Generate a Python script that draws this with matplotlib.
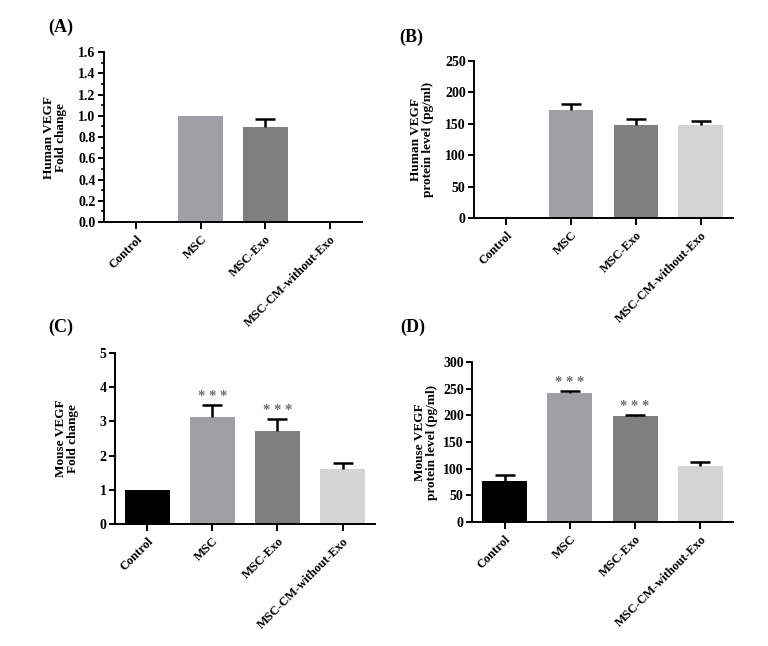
import matplotlib
matplotlib.use("Agg")
import matplotlib.pyplot as plt
from matplotlib.ticker import MultipleLocator, FormatStrFormatter
import numpy as np

categories = ["Control", "MSC", "MSC-Exo", "MSC-CM-without-Exo"]
colors = ["#000000", "#a0a0a4", "#7f7f7f", "#d4d4d4"]

human_fold = [0.0, 1.0, 0.89, 0.0]
human_fold_err = [0.0, 0.0, 0.08, 0.0]

human_level = [0.0, 172, 148, 148]
human_level_err = [0.0, 9, 9, 6]

mouse_fold = [1.0, 3.13, 2.73, 1.6]
mouse_fold_err = [0.0, 0.35, 0.33, 0.18]
mouse_fold_sig = ["", "* * *", "* * *", ""]

mouse_level = [77, 242, 198, 105]
mouse_level_err = [12, 4, 3, 7]
mouse_level_sig = ["", "* * *", "* * *", ""]

plt.rcParams['font.family'] = ['Liberation Serif', 'DejaVu Serif']
plt.rcParams['font.weight'] = 'bold'

W, H = 768, 646
fig = plt.figure(figsize=(W / 100, H / 100), dpi=100)

def panel(rect, vals, errs, ylim, major, ylabel, label_x_px, minor=None, sig=None):
    ax = fig.add_axes(rect)
    x = np.arange(len(categories))
    for i, (v, e) in enumerate(zip(vals, errs)):
        if v > 0:
            ax.bar(x[i], v, width=0.69, color=colors[i], edgecolor='none', zorder=2)
            if e > 0:
                ax.vlines(x[i], v, v + e, colors='black', linewidth=1.8, zorder=3)
                ax.plot([x[i]], [v + e], marker='_', markersize=15, mew=1.8,
                        color='black', zorder=3)
            if sig and sig[i]:
                ax.annotate(sig[i], (x[i], v + e), xytext=(0, 1.5), textcoords='offset points',
                            ha='center', va='bottom', fontsize=10.5, color='#6e6e6e',
                            fontweight='bold')
    ax.set_xlim(-0.5, 3.5)
    ax.set_ylim(*ylim)
    ax.yaxis.set_major_locator(MultipleLocator(major))
    if minor:
        ax.yaxis.set_minor_locator(MultipleLocator(minor))
    for s in ['top', 'right']:
        ax.spines[s].set_visible(False)
    for s in ['left', 'bottom']:
        ax.spines[s].set_linewidth(1.4)
    ax.set_xticks(x)
    ax.set_xticklabels(categories, rotation=45, ha='right', rotation_mode='anchor',
                       fontsize=9, fontweight='bold')
    ax.tick_params(axis='both', which='major', width=1.4, length=4, labelsize=10, pad=2)
    ax.tick_params(axis='y', which='minor', width=1.2, length=2.5)
    ax.tick_params(axis='x', which='major', length=5, pad=3, labelsize=9)
    for lab in ax.get_yticklabels():
        lab.set_fontweight('bold')
    ax.set_ylabel(ylabel, fontsize=9.5, fontweight='bold', linespacing=1.1)
    left_px = rect[0] * W
    width_px = rect[2] * W
    ax.yaxis.set_label_coords((label_x_px - left_px) / width_px, 0.5)
    ax.yaxis.label.set_verticalalignment('center')
    ax.yaxis.label.set_rotation_mode('anchor')
    return ax

axA = panel([0.1354, 0.6563, 0.336, 0.2632], human_fold, human_fold_err, (0, 1.6), 0.2,
            "Human VEGF\nFold change", 55, minor=0.1)
axA.yaxis.set_major_formatter(FormatStrFormatter('%.1f'))

axB = panel([0.6172, 0.6625, 0.3372, 0.2431], human_level, human_level_err, (0, 250), 50,
            "Human VEGF\nprotein level (pg/ml)", 422)

axC = panel([0.1497, 0.1889, 0.3386, 0.2647], mouse_fold, mouse_fold_err, (0, 5), 1,
            "Mouse VEGF\nFold change", 67, sig=mouse_fold_sig)

axD = panel([0.6146, 0.1920, 0.3398, 0.2476], mouse_level, mouse_level_err, (0, 300), 50,
            "Mouse VEGF\nprotein level (pg/ml)", 426, sig=mouse_level_sig)

for lbl, xx, yy in [("(A)", 48, 27), ("(B)", 399, 37), ("(C)", 48, 327), ("(D)", 400, 327)]:
    fig.text(xx / W, 1 - yy / H, lbl, fontsize=13, fontweight='bold', ha='left', va='center')

fig.savefig("out.png", dpi=100)
